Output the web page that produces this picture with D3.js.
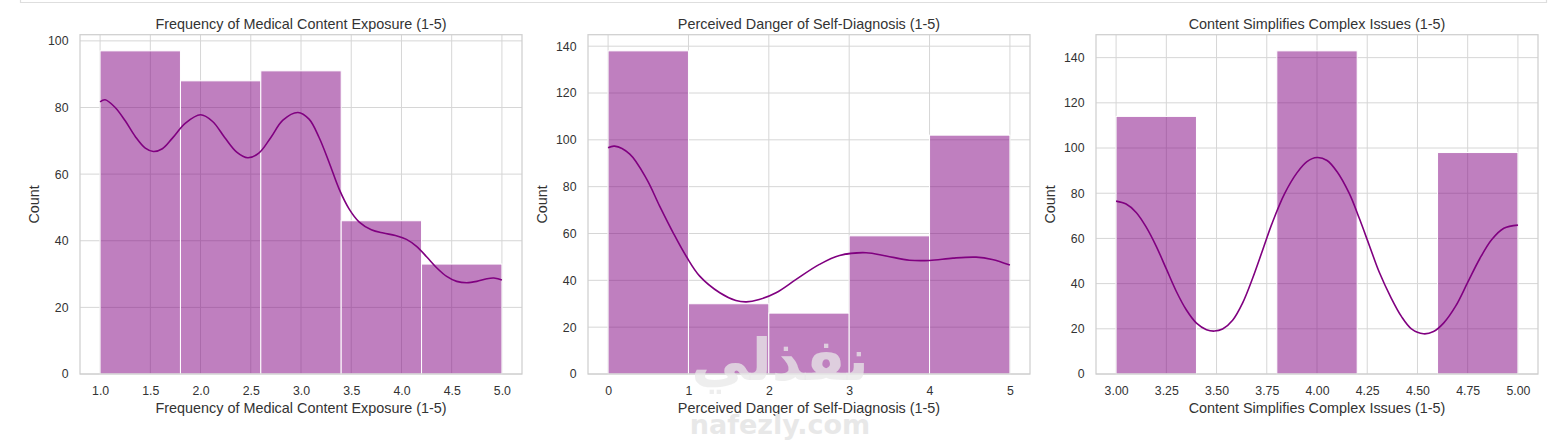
<!DOCTYPE html>
<html>
<head>
<meta charset="utf-8">
<script src="https://cdn.jsdelivr.net/npm/d3@7"></script>
<style>
  html, body { margin: 0; padding: 0; background: #ffffff; }
  svg { display: block; }
  text { font-family: "Liberation Sans", Arial, sans-serif; }
</style>
</head>
<body>
<svg id="chart" width="1560" height="443"></svg>
<script>
// ---------------- data ----------------
const titles = [
  "Frequency of Medical Content Exposure (1-5)",
  "Perceived Danger of Self-Diagnosis (1-5)",
  "Content Simplifies Complex Issues (1-5)"
];
const yLabel = "Count";

// panel 1
const p1Edges = [1.0, 1.8, 2.6, 3.4, 4.2, 5.0];
const p1Counts = [97, 88, 91, 46, 33];
const p1XTicks = [1.0, 1.5, 2.0, 2.5, 3.0, 3.5, 4.0, 4.5, 5.0];
const p1XTickLabels = ["1.0", "1.5", "2.0", "2.5", "3.0", "3.5", "4.0", "4.5", "5.0"];
const p1YTicks = [0, 20, 40, 60, 80, 100];
const p1KdeX = [1.00, 1.05, 1.15, 1.25, 1.35, 1.45, 1.53, 1.62, 1.72, 1.85, 2.00, 2.12, 2.24, 2.36, 2.47, 2.58, 2.70, 2.82, 2.97, 3.08, 3.18, 3.28, 3.38, 3.48, 3.58, 3.70, 3.82, 3.94, 4.05, 4.15, 4.25, 4.35, 4.45, 4.55, 4.65, 4.75, 4.85, 4.92, 5.00];
const p1KdeY = [81.7, 82.3, 80.0, 76.0, 71.3, 67.8, 66.8, 67.6, 70.8, 75.3, 77.8, 75.8, 71.0, 66.6, 64.9, 66.3, 71.0, 76.2, 78.5, 76.5, 71.0, 63.5, 55.5, 49.5, 45.6, 43.3, 42.3, 41.6, 40.4, 38.3, 35.2, 31.9, 29.3, 27.8, 27.4, 27.8, 28.6, 28.8, 28.2];

// panel 2
const p2Edges = [0, 1, 2, 3, 4, 5];
const p2Counts = [138, 30, 26, 59, 102];
const p2XTicks = [0, 1, 2, 3, 4, 5];
const p2XTickLabels = ["0", "1", "2", "3", "4", "5"];
const p2YTicks = [0, 20, 40, 60, 80, 100, 120, 140];
const p2KdeX = [0.00, 0.08, 0.27, 0.48, 0.64, 0.81, 0.97, 1.14, 1.39, 1.59, 1.72, 1.88, 2.09, 2.34, 2.63, 2.88, 3.21, 3.46, 3.75, 4.00, 4.29, 4.58, 4.78, 5.00];
const p2KdeY = [96.6, 97.3, 93.9, 83.2, 71.8, 60.3, 50.4, 41.8, 34.7, 31.4, 30.8, 31.8, 34.7, 40.4, 46.8, 50.6, 51.8, 50.4, 48.6, 48.5, 49.5, 49.9, 48.9, 46.5];

// panel 3
const p3Edges = [3.0, 3.4, 3.8, 4.2, 4.6, 5.0];
const p3Counts = [114, 0, 143, 0, 98];
const p3XTicks = [3.00, 3.25, 3.50, 3.75, 4.00, 4.25, 4.50, 4.75, 5.00];
const p3XTickLabels = ["3.00", "3.25", "3.50", "3.75", "4.00", "4.25", "4.50", "4.75", "5.00"];
const p3YTicks = [0, 20, 40, 60, 80, 100, 120, 140];
const p3KdeX = [3.00, 3.05, 3.10, 3.15, 3.20, 3.25, 3.30, 3.35, 3.40, 3.45, 3.49, 3.53, 3.58, 3.63, 3.68, 3.73, 3.78, 3.84, 3.90, 3.95, 4.00, 4.05, 4.10, 4.16, 4.21, 4.26, 4.31, 4.37, 4.42, 4.47, 4.53, 4.58, 4.63, 4.69, 4.75, 4.81, 4.87, 4.93, 5.00];
const p3KdeY = [76.5, 75.2, 71.5, 65.0, 56.5, 46.5, 36.5, 28.3, 22.5, 19.6, 19.0, 19.9, 23.8, 31.5, 42.5, 55.0, 67.5, 80.0, 89.0, 94.0, 95.8, 94.5, 89.5, 80.0, 69.0, 57.0, 45.0, 33.5, 25.5, 20.0, 17.8, 18.8, 22.5, 30.0, 40.5, 51.0, 59.5, 64.5, 65.9];

const watermarkAr = "نفذلي";
const watermarkEn = "nafezly.com";

// ---------------- layout ----------------
const W = 1560, H = 443;
const axLefts = [80, 588, 1096];
const axW = 442;
const axTop = 34.7, axBottom = 374;
const purple = "#800080";
const gridColor = "#d6d6d6";
const frameColor = "#cfcfcf";
const textColor = "#333333";

const panels = [
  { edges: p1Edges, counts: p1Counts, xt: p1XTicks, xtl: p1XTickLabels, yt: p1YTicks, kx: p1KdeX, ky: p1KdeY },
  { edges: p2Edges, counts: p2Counts, xt: p2XTicks, xtl: p2XTickLabels, yt: p2YTicks, kx: p2KdeX, ky: p2KdeY },
  { edges: p3Edges, counts: p3Counts, xt: p3XTicks, xtl: p3XTickLabels, yt: p3YTicks, kx: p3KdeX, ky: p3KdeY }
];

const svg = d3.select("#chart");
svg.append("rect").attr("width", W).attr("height", H).attr("fill", "#fff");

// top border of screenshot container
svg.append("path")
  .attr("d", "M20.5,-2 V2.5 H1546.5 V-2")
  .attr("fill", "none").attr("stroke", "#dedede").attr("stroke-width", 1.2);

panels.forEach((p, i) => {
  const left = axLefts[i];
  const xMin = p.edges[0], xMax = p.edges[p.edges.length - 1];
  const pad = (xMax - xMin) * 0.05;
  const x = d3.scaleLinear().domain([xMin - pad, xMax + pad]).range([left, left + axW]);
  const yMaxC = d3.max(p.counts);
  const y = d3.scaleLinear().domain([0, yMaxC * 1.05]).range([axBottom, axTop]);

  const g = svg.append("g");

  // grid
  g.append("g").selectAll("line").data(p.xt).join("line")
    .attr("x1", d => x(d)).attr("x2", d => x(d))
    .attr("y1", axTop).attr("y2", axBottom)
    .attr("stroke", gridColor).attr("stroke-width", 1);
  g.append("g").selectAll("line").data(p.yt).join("line")
    .attr("y1", d => y(d)).attr("y2", d => y(d))
    .attr("x1", left).attr("x2", left + axW)
    .attr("stroke", gridColor).attr("stroke-width", 1);

  // bars
  const bins = p.counts.map((c, k) => ({ x0: p.edges[k], x1: p.edges[k + 1], c }));
  g.append("g").selectAll("rect").data(bins.filter(b => b.c > 0)).join("rect")
    .attr("x", b => x(b.x0))
    .attr("width", b => x(b.x1) - x(b.x0))
    .attr("y", b => y(b.c))
    .attr("height", b => y(0) - y(b.c))
    .attr("fill", purple).attr("fill-opacity", 0.5)
    .attr("stroke", "#ffffff").attr("stroke-width", 1);

  // kde line
  const pts = p.kx.map((v, k) => [v, p.ky[k]]);
  g.append("path")
    .datum(pts)
    .attr("fill", "none")
    .attr("stroke", purple)
    .attr("stroke-width", 1.6)
    .attr("stroke-linejoin", "round")
    .attr("d", d3.line().x(d => x(d[0])).y(d => y(d[1])).curve(d3.curveCatmullRom.alpha(0.5)));

  // frame
  g.append("rect")
    .attr("x", left).attr("y", axTop)
    .attr("width", axW).attr("height", axBottom - axTop)
    .attr("fill", "none").attr("stroke", frameColor).attr("stroke-width", 1.25);

  // x axis
  const xa = g.append("g").attr("transform", `translate(0,${axBottom})`)
    .call(d3.axisBottom(x).tickValues(p.xt).tickFormat((d, k) => p.xtl[k]).tickSize(0));
  xa.select(".domain").remove();
  xa.selectAll("text")
    .attr("y", 21).attr("dy", 0)
    .attr("fill", textColor)
    .style("font-size", "12.3px")
    .style("font-family", "'Liberation Sans', Arial, sans-serif");

  // y axis
  const ya = g.append("g").attr("transform", `translate(${left},0)`)
    .call(d3.axisLeft(y).tickValues(p.yt).tickFormat(d3.format("d")).tickSize(0).tickPadding(11.5));
  ya.select(".domain").remove();
  ya.selectAll("text")
    .attr("fill", textColor)
    .style("font-size", "12.3px")
    .style("font-family", "'Liberation Sans', Arial, sans-serif");

  // title
  g.append("text")
    .attr("x", left + axW / 2).attr("y", 28.7)
    .attr("text-anchor", "middle")
    .attr("fill", textColor)
    .style("font-size", "14.4px")
    .text(titles[i]);

  // x label
  g.append("text")
    .attr("x", left + axW / 2).attr("y", 412.5)
    .attr("text-anchor", "middle")
    .attr("fill", textColor)
    .style("font-size", "14.4px")
    .text(titles[i]);

  // y label
  g.append("text")
    .attr("transform", `translate(${left - 41},${(axTop + axBottom) / 2}) rotate(-90)`)
    .attr("text-anchor", "middle")
    .attr("fill", textColor)
    .style("font-size", "14.4px")
    .text(yLabel);
});

// watermark
svg.append("text")
  .attr("x", 780).attr("y", 380)
  .attr("text-anchor", "middle")
  .attr("fill", "#e8e8e8").attr("fill-opacity", 0.75)
  .style("font-family", "'DejaVu Sans', sans-serif")
  .style("font-weight", "bold")
  .style("font-size", "58px")
  .text(watermarkAr);
svg.append("text")
  .attr("x", 780).attr("y", 434)
  .attr("text-anchor", "middle")
  .attr("fill", "#e8e8e8")
  .style("font-family", "'DejaVu Sans', sans-serif")
  .style("font-weight", "bold")
  .style("font-size", "27px")
  .text(watermarkEn);
</script>
</body>
</html>
